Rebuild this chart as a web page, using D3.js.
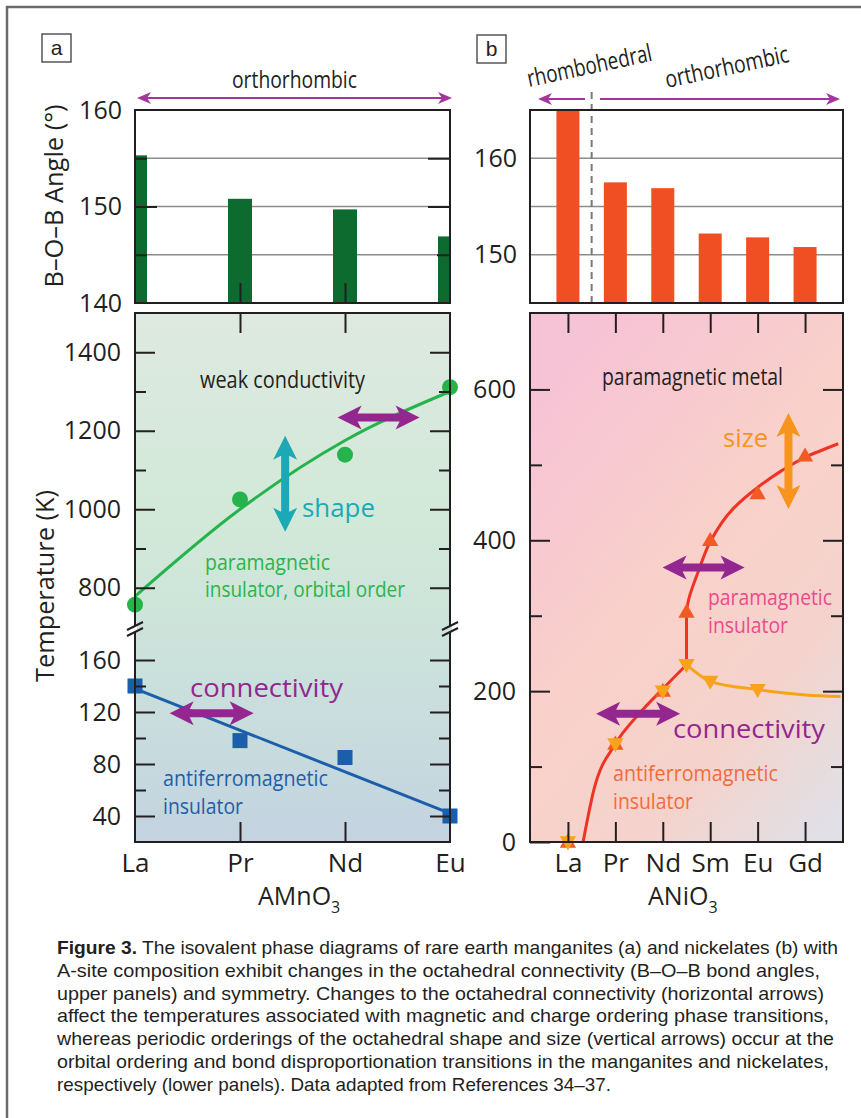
<!DOCTYPE html>
<html>
<head>
<meta charset="utf-8">
<script src="https://cdn.jsdelivr.net/npm/d3@7"></script>
<style>
body { margin: 0; background: #fff; }
svg { display: block; font-family: "Open Sans", sans-serif; }
</style>
</head>
<body>
<script>
// ---- panel a : AMnO3 ----
const mnCats = ["La", "Pr", "Nd", "Eu"];
const mnAngle = [155.3, 150.8, 149.7, 146.9];
const mnTorb = [757, 1025, 1139, 1311];        // orbital order (circles)
const mnTorbFit = [778, 1000, 1175, 1300];     // guide line
const mnTN = [140, 98, 85, 40];                // Neel (squares)
const mnTNFit = [138, 42];                     // straight guide La -> Eu

// ---- panel b : ANiO3 ----
const niCats = ["La", "Pr", "Nd", "Sm", "Eu", "Gd"];
const niAngle = [165, 157.5, 156.9, 152.2, 151.8, 150.8];
const niTMIpos = [0, 1, 2, 2.5, 3, 4, 5];
const niTMI = [0, 130, 200, 305, 400, 462, 512];
const niTNpos = [0, 1, 2, 2.5, 3, 4];
const niTN = [0, 130, 200, 235, 213, 202];
const tmiLowPos = [0.32, 0.55, 1, 1.5, 2, 2.5];
const tmiLow = [0, 70, 130, 170, 203, 235];
const tmiHighPos = [2.5, 2.5, 2.78, 3, 3.5, 4, 4.5, 5, 5.7];
const tmiHigh = [235, 300, 364, 398, 443, 470, 492, 510, 528];
const tnLinePos = [2.5, 3, 4, 5, 5.75];
const tnLine = [235, 213, 202, 195, 193];

// tick labels
const angleTicksA = [140, 150, 160];
const angleTicksB = [150, 160];
const tHiMajor = [800, 1000, 1200, 1400], tHiMinor = [900, 1100, 1300];
const tLoMajor = [40, 80, 120, 160], tLoMinor = [60, 100, 140];
const tNiMajor = [0, 200, 400, 600], tNiMinor = [100, 300, 500];

const caption = [
  ["Figure 3.", "  The isovalent phase diagrams of rare earth manganites (a) and nickelates (b) with", 781],
  ["", "A-site composition exhibit changes in the octahedral connectivity (B\u2013O\u2013B bond angles,", 763],
  ["", "upper panels) and symmetry. Changes to the octahedral connectivity (horizontal arrows)", 767],
  ["", "affect the temperatures associated with magnetic and charge ordering phase transitions,", 772],
  ["", "whereas periodic orderings of the octahedral shape and size (vertical arrows) occur at the", 777],
  ["", "orbital ordering and bond disproportionation transitions in the manganites and nickelates,", 772],
  ["", "respectively (lower panels). Data adapted from References 34\u201337.", 554]
];

const ink = "#231f20", purple = "#93278f", thinPurple = "#a4359b";

const svg = d3.select("body").append("svg")
  .attr("width", 861).attr("height", 1118);

const defs = svg.append("defs");
const gA = defs.append("linearGradient").attr("id", "gradA")
  .attr("x1", 0).attr("y1", 0).attr("x2", 0).attr("y2", 1);
gA.append("stop").attr("offset", 0).attr("stop-color", "#dee9e0");
gA.append("stop").attr("offset", 0.4).attr("stop-color", "#d1e9d8");
gA.append("stop").attr("offset", 0.7).attr("stop-color", "#cae0dc");
gA.append("stop").attr("offset", 1).attr("stop-color", "#c3d3e0");
const gB = defs.append("linearGradient").attr("id", "gradB")
  .attr("x1", 0.2).attr("y1", 0).attr("x2", 0.9).attr("y2", 1);
gB.append("stop").attr("offset", 0).attr("stop-color", "#f6c2d6");
gB.append("stop").attr("offset", 0.45).attr("stop-color", "#f9d1ca");
gB.append("stop").attr("offset", 0.75).attr("stop-color", "#f4d3cc");
gB.append("stop").attr("offset", 1).attr("stop-color", "#e1e0e6");

defs.append("clipPath").attr("id", "clipA").append("rect")
  .attr("x", 135).attr("y", 110).attr("width", 315).attr("height", 193);
defs.append("clipPath").attr("id", "clipB").append("rect")
  .attr("x", 530).attr("y", 110).attr("width", 313).attr("height", 193);

// outer border
svg.append("path").attr("d", "M7,1118V7H861")
  .attr("fill", "none").attr("stroke", "#6b6b6b").attr("stroke-width", 2.5);

// scales
const xa = d3.scalePoint().domain(mnCats).range([135, 450]);
const yaAng = d3.scaleLinear().domain([140, 160]).range([303, 110]);
const yaHi = d3.scaleLinear().domain([700, 1500]).range([627, 313]);
const yaLo = d3.scaleLinear().domain([20, 180]).range([842, 634]);
const xai = d3.scaleLinear().domain([0, 3]).range([135, 450]);

const xb = d3.scaleLinear().domain([-0.8, 5.8]).range([530, 843]);
const ybAng = d3.scaleLinear().domain([145, 165]).range([303, 110]);
const ybT = d3.scaleLinear().domain([0, 700]).range([842, 314]);

// helpers
function tickAxis(fn, scale, values, size, x, y, fmt, pad) {
  const g = svg.append("g").attr("transform", `translate(${x},${y})`)
    .call(fn(scale).tickValues(values).tickSizeInner(-size).tickSizeOuter(0)
      .tickPadding(pad ?? 14).tickFormat(fmt || (() => "")));
  g.select(".domain").remove();
  g.selectAll("line").attr("stroke", ink).attr("stroke-width", 2);
  g.selectAll("text").attr("fill", ink).attr("font-size", 25)
    .attr("font-family", "'Open Sans', sans-serif");
  return g;
}
function label(x, y, txt, size, color, len) {
  const t = svg.append("text").attr("x", x).attr("y", y).text(txt)
    .attr("font-size", size).attr("fill", color);
  if (len) t.attr("textLength", len).attr("lengthAdjust", "spacingAndGlyphs");
  return t;
}
function fatArrow(cx, cy, len, rot, color) {
  const h = len / 2, s = 4, w = 12, hl = 20;
  const d = `M${-h},0 L${-h + hl + 4},${-w} L${-h + hl},${-s} L${h - hl},${-s} L${h - hl - 4},${-w} L${h},0 ` +
            `L${h - hl - 4},${w} L${h - hl},${s} L${-h + hl},${s} L${-h + hl + 4},${w} Z`;
  svg.append("path").attr("d", d).attr("fill", color)
    .attr("transform", `translate(${cx},${cy}) rotate(${rot})`);
}
function thinArrow(x1, x2, y, headLeft, headRight) {
  svg.append("line").attr("x1", x1 + (headLeft ? 6 : 0)).attr("x2", x2 - (headRight ? 6 : 0))
    .attr("y1", y).attr("y2", y).attr("stroke", thinPurple).attr("stroke-width", 2.2);
  if (headLeft) svg.append("path").attr("d", `M${x1},${y} L${x1 + 14},${y - 6} L${x1 + 10},${y} L${x1 + 14},${y + 6} Z`).attr("fill", thinPurple);
  if (headRight) svg.append("path").attr("d", `M${x2},${y} L${x2 - 14},${y - 6} L${x2 - 10},${y} L${x2 - 14},${y + 6} Z`).attr("fill", thinPurple);
}
function box(x, y, ch) {
  svg.append("rect").attr("x", x).attr("y", y).attr("width", 29).attr("height", 28)
    .attr("fill", "#fff").attr("stroke", "#555").attr("stroke-width", 1.5);
  svg.append("text").attr("x", x + 14.5).attr("y", y + 21).attr("text-anchor", "middle")
    .attr("font-family", "'Liberation Sans', Arial, sans-serif").attr("font-size", 21)
    .attr("fill", ink).text(ch);
}

// ================= PANEL A, top =================
box(42, 34, "a");
thinArrow(137, 452, 98, true, true);
label(232, 88, "orthorhombic", 24, ink, 125);

[145, 150, 155].forEach(v => svg.append("line").attr("x1", 135).attr("x2", 450)
  .attr("y1", yaAng(v)).attr("y2", yaAng(v)).attr("stroke", "#8c8c8c").attr("stroke-width", 1.5));

svg.append("g").attr("clip-path", "url(#clipA)").selectAll("rect")
  .data(mnCats).enter().append("rect")
  .attr("x", d => xa(d) - 12).attr("width", 24)
  .attr("y", (d, i) => yaAng(mnAngle[i]))
  .attr("height", (d, i) => 303 - yaAng(mnAngle[i]))
  .attr("fill", "#0d6b2f");

tickAxis(d3.axisLeft, yaAng, [150], 22, 135, 0);
tickAxis(d3.axisLeft, yaAng, [145, 155], 12, 135, 0);
tickAxis(d3.axisRight, yaAng, [150, 155], 22, 450, 0);
tickAxis(d3.axisRight, yaAng, [145], 13, 450, 0);
tickAxis(d3.axisBottom, xa, ["Pr", "Nd"], 20, 0, 303);
tickAxis(d3.axisLeft, yaAng, angleTicksA, 0, 122, 0, d => d, 0);
svg.append("rect").attr("x", 135).attr("y", 110).attr("width", 315).attr("height", 193)
  .attr("fill", "none").attr("stroke", ink).attr("stroke-width", 2);

svg.append("text").attr("transform", "translate(63,196) rotate(-90)")
  .attr("text-anchor", "middle").attr("font-size", 26).attr("fill", ink)
  .attr("textLength", 183).attr("lengthAdjust", "spacingAndGlyphs")
  .text("B\u2013O\u2013B Angle (\u00b0)");

// ================= PANEL A, bottom =================
svg.append("rect").attr("x", 135).attr("y", 313).attr("width", 315).attr("height", 529)
  .attr("fill", "url(#gradA)");

// orbital ordering curve
svg.append("path").datum(mnCats)
  .attr("d", d3.line().x(d => xa(d)).y((d, i) => yaHi(mnTorbFit[i])).curve(d3.curveMonotoneX))
  .attr("fill", "none").attr("stroke", "#25b34b").attr("stroke-width", 3);
svg.append("g").selectAll("circle").data(mnCats).enter().append("circle")
  .attr("cx", d => xa(d)).attr("cy", (d, i) => yaHi(mnTorb[i])).attr("r", 8)
  .attr("fill", "#25b34b");

// Neel curve
svg.append("path").datum(["La", "Eu"])
  .attr("d", d3.line().x(d => xa(d)).y((d, i) => yaLo(mnTNFit[i])))
  .attr("fill", "none").attr("stroke", "#1b5faa").attr("stroke-width", 3);
svg.append("g").selectAll("rect").data(mnCats).enter().append("rect")
  .attr("x", d => xa(d) - 7.5).attr("y", (d, i) => yaLo(mnTN[i]) - 7.5)
  .attr("width", 15).attr("height", 15).attr("fill", "#1b5faa");

fatArrow(xai(2.32), yaHi(1234), 82, 0, purple);
fatArrow(xai(1.43), yaHi(1065), 96, 90, "#1ca9b6");
fatArrow(xai(0.73), yaLo(119), 84, 0, purple);

label(200, 388, "weak conductivity", 23, ink, 165);
label(302, 517, "shape", 26, "#1ca9b6", 73);
label(205, 570, "paramagnetic", 22, "#2bb44b", 125);
label(205, 597, "insulator, orbital order", 22, "#2bb44b", 200);
label(190, 697, "connectivity", 26, purple, 153);
label(163, 786, "antiferromagnetic", 21, "#1b5faa", 165);
label(163, 814, "insulator", 22, "#1b5faa", 80);

svg.append("rect").attr("x", 135).attr("y", 313).attr("width", 315).attr("height", 529)
  .attr("fill", "none").attr("stroke", ink).attr("stroke-width", 2);
tickAxis(d3.axisTop, xa, ["Pr", "Nd"], 20, 0, 313);
const xaxA = tickAxis(d3.axisBottom, xa, mnCats, 0, 0, 842, d => d, 12);
xaxA.selectAll("text").attr("font-size", 26);
tickAxis(d3.axisBottom, xa, ["Pr", "Nd"], 20, 0, 842);
tickAxis(d3.axisLeft, yaHi, tHiMajor, 20, 135, 0, d => d);
tickAxis(d3.axisLeft, yaHi, tHiMinor, 11, 135, 0);
tickAxis(d3.axisRight, yaHi, tHiMajor, 20, 450, 0);
tickAxis(d3.axisRight, yaHi, tHiMinor, 11, 450, 0);
tickAxis(d3.axisLeft, yaLo, tLoMajor, 20, 135, 0, d => d);
tickAxis(d3.axisLeft, yaLo, tLoMinor, 11, 135, 0);
tickAxis(d3.axisRight, yaLo, tLoMajor, 20, 450, 0);
tickAxis(d3.axisRight, yaLo, tLoMinor, 11, 450, 0);

// axis break marks
[135, 450].forEach(x => {
  svg.append("rect").attr("x", x - 2).attr("y", 626).attr("width", 4).attr("height", 6).attr("fill", x < 200 ? "#fff" : "#cfe3dd");
  [-3, 3].forEach(o => svg.append("line")
    .attr("x1", x - 8).attr("y1", 633 + o).attr("x2", x + 8).attr("y2", 625 + o)
    .attr("stroke", ink).attr("stroke-width", 2));
});

const tA = svg.append("text").attr("x", 258).attr("y", 905).attr("font-size", 25).attr("fill", ink);
tA.append("tspan").text("AMnO");
tA.append("tspan").attr("font-size", 16).attr("dy", 8).text("3");

svg.append("text").attr("transform", "translate(54,586) rotate(-90)")
  .attr("text-anchor", "middle").attr("font-size", 26).attr("fill", ink)
  .attr("textLength", 192).attr("lengthAdjust", "spacingAndGlyphs")
  .text("Temperature (K)");

// ================= PANEL B, top =================
box(477, 35, "b");
thinArrow(538, 585, 99, true, false);
thinArrow(600, 840, 99, false, true);
svg.append("text").attr("transform", "translate(529,87) rotate(-12)")
  .attr("font-size", 24).attr("fill", ink)
  .attr("textLength", 127).attr("lengthAdjust", "spacingAndGlyphs").text("rhombohedral");
svg.append("text").attr("transform", "translate(667,88) rotate(-12)")
  .attr("font-size", 24).attr("fill", ink)
  .attr("textLength", 126).attr("lengthAdjust", "spacingAndGlyphs").text("orthorhombic");

[150, 155, 160].forEach(v => svg.append("line").attr("x1", 530).attr("x2", 843)
  .attr("y1", ybAng(v)).attr("y2", ybAng(v)).attr("stroke", "#8c8c8c").attr("stroke-width", 1.5));

svg.append("g").attr("clip-path", "url(#clipB)").selectAll("rect")
  .data(niCats).enter().append("rect")
  .attr("x", (d, i) => xb(i) - 11.5).attr("width", 23)
  .attr("y", (d, i) => ybAng(niAngle[i]))
  .attr("height", (d, i) => 303 - ybAng(niAngle[i]))
  .attr("fill", "#f04e23");

svg.append("line").attr("x1", xb(0.5)).attr("x2", xb(0.5)).attr("y1", 92).attr("y2", 303)
  .attr("stroke", "#7a7a7a").attr("stroke-width", 2).attr("stroke-dasharray", "7,5");
svg.append("rect").attr("x", 530).attr("y", 110).attr("width", 313).attr("height", 193)
  .attr("fill", "none").attr("stroke", ink).attr("stroke-width", 2);
tickAxis(d3.axisLeft, ybAng, angleTicksB, 0, 517, 0, d => d, 0);

// ================= PANEL B, bottom =================
svg.append("rect").attr("x", 530).attr("y", 313).attr("width", 313).attr("height", 529)
  .attr("fill", "url(#gradB)");

const lineB = d3.line().x(d => xb(d[0])).y(d => ybT(d[1]));
svg.append("path").datum(tnLinePos.map((p, i) => [p, tnLine[i]]))
  .attr("d", lineB.curve(d3.curveMonotoneX))
  .attr("fill", "none").attr("stroke", "#f9a21b").attr("stroke-width", 3);
svg.append("path").datum(tmiLowPos.map((p, i) => [p, tmiLow[i]]))
  .attr("d", lineB.curve(d3.curveMonotoneX))
  .attr("fill", "none").attr("stroke", "#ee3424").attr("stroke-width", 3);
svg.append("path").datum(tmiHighPos.map((p, i) => [p, tmiHigh[i]]))
  .attr("d", lineB.curve(d3.curveMonotoneY))
  .attr("fill", "none").attr("stroke", "#ee3424").attr("stroke-width", 3);

const tri = d3.symbol().type(d3.symbolTriangle).size(115);
svg.append("g").selectAll("path").data(niTMIpos).enter().append("path")
  .attr("d", tri).attr("fill", "#f15a24")
  .attr("transform", (d, i) => `translate(${xb(d)},${ybT(niTMI[i]) + 1})`);
svg.append("g").selectAll("path").data(niTNpos).enter().append("path")
  .attr("d", tri).attr("fill", "#f9a21b")
  .attr("transform", (d, i) => `translate(${xb(d)},${ybT(niTN[i]) - 1}) rotate(180)`);

fatArrow(xb(4.65), ybT(505), 96, 90, "#f7941d");
fatArrow(xb(2.86), ybT(364), 82, 0, purple);
fatArrow(xb(1.48), ybT(170), 84, 0, purple);

label(602, 385, "paramagnetic metal", 23, ink, 181);
label(723, 447, "size", 26, "#f7941d", 45);
label(708, 605, "paramagnetic", 22, "#ec4a8c", 124);
label(708, 633, "insulator", 22, "#ec4a8c", 80);
label(673, 738, "connectivity", 26, purple, 152);
label(613, 781, "antiferromagnetic", 21, "#f26b3c", 165);
label(613, 809, "insulator", 22, "#f26b3c", 80);

svg.append("rect").attr("x", 530).attr("y", 313).attr("width", 313).attr("height", 529)
  .attr("fill", "none").attr("stroke", ink).attr("stroke-width", 2);
const xbCat = d3.scalePoint().domain(niCats).range([xb(0), xb(5)]);
tickAxis(d3.axisTop, xbCat, niCats, 20, 0, 313);
const xaxB = tickAxis(d3.axisBottom, xbCat, niCats, 20, 0, 842, d => d, 12);
xaxB.selectAll("text").attr("font-size", 26);
tickAxis(d3.axisLeft, ybT, tNiMajor, 20, 530, 0, d => d);
tickAxis(d3.axisLeft, ybT, tNiMinor, 12, 530, 0);
tickAxis(d3.axisRight, ybT, tNiMajor.slice(1), 20, 843, 0);
tickAxis(d3.axisRight, ybT, tNiMinor, 12, 843, 0);

const tB = svg.append("text").attr("x", 648).attr("y", 905).attr("font-size", 25).attr("fill", ink);
tB.append("tspan").text("ANiO");
tB.append("tspan").attr("font-size", 16).attr("dy", 8).text("3");

// ================= caption =================
caption.forEach((c, i) => {
  const t = svg.append("text").attr("x", 57).attr("y", 954 + i * 22.8)
    .attr("font-family", "'Liberation Sans', Arial, sans-serif")
    .attr("font-size", 18.5).attr("fill", ink)
    .attr("textLength", c[2]).attr("lengthAdjust", "spacingAndGlyphs");
  if (c[0]) t.append("tspan").attr("font-weight", "bold").text(c[0]);
  t.append("tspan").text(c[1]);
});
</script>
</body>
</html>
